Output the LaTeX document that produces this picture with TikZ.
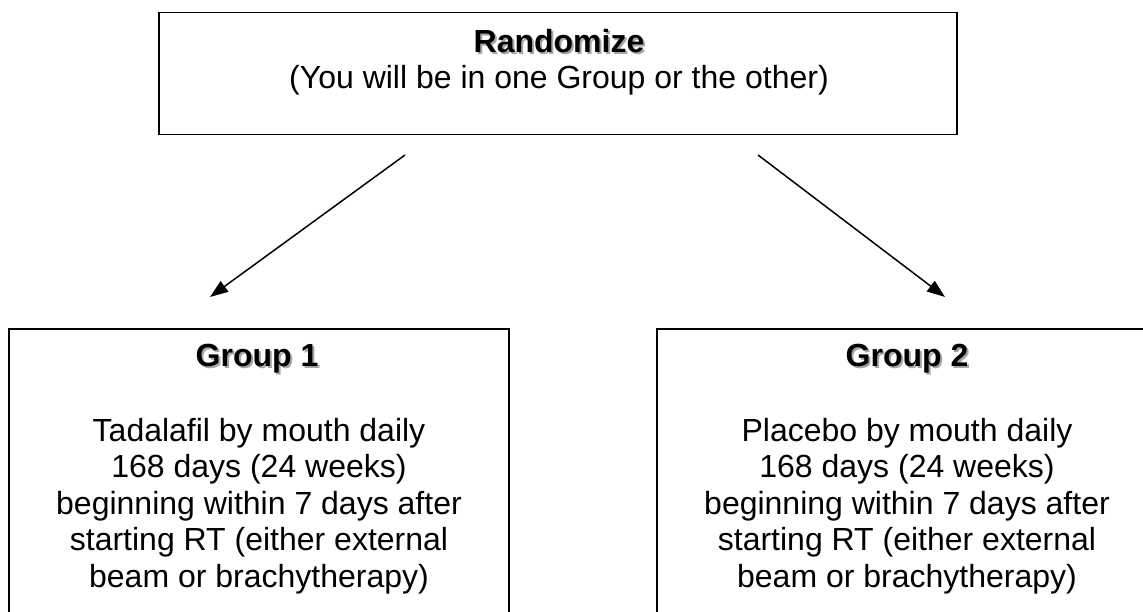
\documentclass[tikz,border=0pt]{standalone}
\usepackage{fontspec}
\setmainfont{Liberation Sans}
\usetikzlibrary{arrows.meta}
\newcommand\shtitle[1]{\makebox[0pt][l]{\hspace{2pt}\raisebox{-2pt}{\color{black!35}#1}}#1}
\tikzset{
  boxframe/.style={draw=black, line width=1.6pt, rectangle, inner sep=0pt},
  titletext/.style={font=\fontsize{32}{36.5}\selectfont\bfseries, inner sep=0pt},
  bodytext/.style={font=\fontsize{32}{36.5}\selectfont, align=center, inner sep=0pt},
  flowarrow/.style={draw=black, line width=1.5pt, -{Triangle[length=18pt,width=13pt]}}
}
\begin{document}
\begin{tikzpicture}[x=1pt,y=-1pt]
\useasboundingbox (0,0) rectangle (1143,612);
\clip (0,0) rectangle (1143,612);
% top box
\node[boxframe, minimum width=798pt, minimum height=122pt] (rand) at (558,73.6) {};
\node[titletext] (randt) at (559,42) {\shtitle{Randomize}};
\node[bodytext] (rands) at (559,80) {(You will be in one Group or the other)};
% group boxes
\node[boxframe, minimum width=500pt, minimum height=320pt] (g1) at (259,489) {};
\node[boxframe, minimum width=500pt, minimum height=320pt] (g2) at (907,489) {};
\node[titletext] (g1t) at (257,360) {\shtitle{Group 1}};
\node[titletext] (g2t) at (907,360) {\shtitle{Group 2}};
\node[bodytext] (g1b) at (259,506) {Tadalafil by mouth daily\\168 days (24 weeks)\\beginning within 7 days after\\starting RT (either external\\beam or brachytherapy)};
\node[bodytext] (g2b) at (907,506) {Placebo by mouth daily\\168 days (24 weeks)\\beginning within 7 days after\\starting RT (either external\\beam or brachytherapy)};
% arrows
\coordinate (a1s) at (405,155);
\coordinate (a1e) at (210,297);
\coordinate (a2s) at (758,155);
\coordinate (a2e) at (945,297);
\draw[flowarrow] (a1s) -- (a1e);
\draw[flowarrow] (a2s) -- (a2e);
\end{tikzpicture}
\end{document}
